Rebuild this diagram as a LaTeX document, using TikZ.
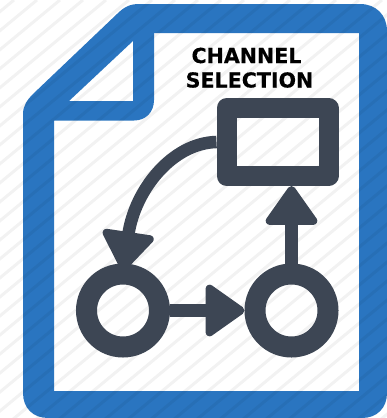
\documentclass[tikz,border=0pt]{standalone}
\usepackage{fontspec}
\setmainfont[BoldFeatures={FakeBold=0.25}]{DejaVu Sans}
\usetikzlibrary{arrows.meta}
\definecolor{docblue}{HTML}{2A75C0}
\definecolor{slate}{HTML}{3D4654}
\tikzset{
  ringnode/.style={circle,draw=slate,line width=21pt,inner sep=0pt,minimum size=73pt},
  boxnode/.style={rectangle,draw=slate,line width=20pt,line join=round,inner sep=0pt,minimum width=102pt,minimum height=68pt},
  conn/.style={draw=slate,line width=12.5pt,-{Triangle[length=42pt,width=57pt,round,line width=8pt]}},
  title/.style={font=\bfseries\fontsize{20.6}{25}\selectfont,text=black,align=center,inner sep=0pt},
  stripe/.style={line width=3pt,black,opacity=.05}
}
\begin{document}
\begin{tikzpicture}[x=1pt,y=-1pt]
\useasboundingbox (0,0) rectangle (387,418);
\fill[white] (0,0) rectangle (387,418);
% document sheet
\fill[docblue,even odd rule]
  (23,114) .. controls (23,106) and (27,100) .. (33,94) -- (117,14)
  .. controls (124,7) and (130,4) .. (139,4) -- (360,4)
  .. controls (376,4) and (387,15) .. (387,31) -- (387,393)
  .. controls (387,408) and (377,418) .. (362,418) -- (48,418)
  .. controls (33,418) and (23,408) .. (23,393) -- cycle
  (54,120.5) -- (54,391) -- (359,391) -- (359,33) -- (154,33) -- (154,100)
  .. controls (154,112) and (146,120.5) .. (134,120.5) -- cycle
  (69,101) -- (133,41) -- (133,101) -- cycle;
% diagonal hatching
\begin{scope}
\clip (0,0) rectangle (387,418);
\foreach \k in {-24,...,17}
  \draw[stripe] (\k*23,430) -- ++(520,-430);
\end{scope}
\node[boxnode] (box) at (277.5,142) {};
\node[ringnode] (c1) at (123,310.5) {};
\node[ringnode] (c2) at (291.5,310.5) {};
\draw[conn] (c1) -- (c2);
\draw[conn] (c2) -- (c2 |- box.south);
\draw[conn] (box.west) .. controls (172,143) and (135,190) .. ([yshift=-7pt]c1.north);
\node[title] (t1) at (246.5,55.5) {CHANNEL};
\node[title] (t2) at (249.5,80) {SELECTION};
\end{tikzpicture}
\end{document}
